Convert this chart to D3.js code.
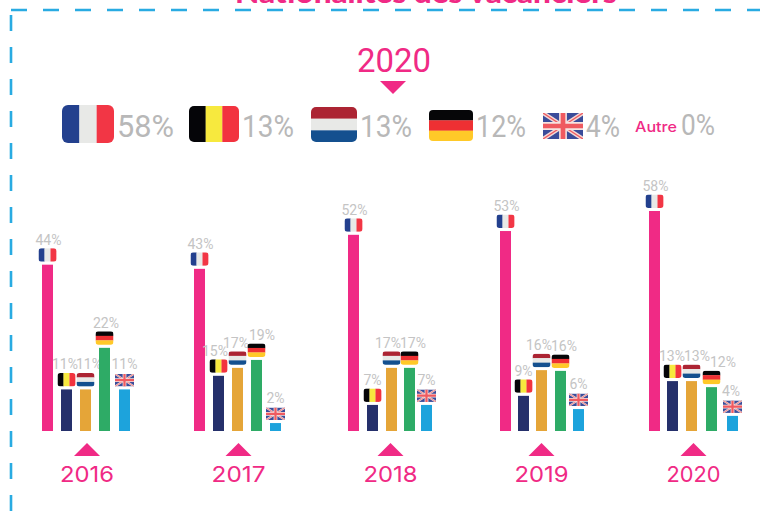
<!DOCTYPE html>
<html lang="fr">
<head>
<meta charset="utf-8">
<script src="https://cdn.jsdelivr.net/npm/d3@7/dist/d3.min.js"></script>
<style>
html,body{margin:0;padding:0;background:#fff;overflow:hidden}
svg{display:block}
text{font-family:Roboto,sans-serif}
</style>
</head>
<body>
<svg id="chart" width="760" height="523"></svg>
<script>
// ---- data ----
const years = [2016, 2017, 2018, 2019, 2020];
const countries = ["FR", "BE", "NL", "DE", "UK"];
const share2016 = [44, 11, 11, 22, 11];
const share2017 = [42.9, 14.6, 16.7, 18.8, 2.1];
const share2018 = [51.9, 6.9, 16.7, 16.7, 6.9];
const share2019 = [52.9, 9.3, 16.1, 15.9, 5.8];
const share2020 = [58.2, 13.2, 13.2, 11.6, 4];
const headlineYear = "2020";
const headlineShares = [58, 13, 13, 12, 4];
const otherLabel = "Autre";
const otherShare = 0;
const titleText = "Nationalités des vacanciers";

// ---- layout and style ----
const allShares = [share2016, share2017, share2018, share2019, share2020];
const pink = "#F02A85", grey = "#B8B8B8", dash = "#29ABE2";
const barColor = d3.scaleOrdinal(countries, ["#F02A85", "#25306B", "#E5A538", "#2EAB66", "#1DA3DC"]);
const baseY = 431, barW = 11;
const y = d3.scaleLinear().domain([0, 58.2]).range([baseY, baseY - 220]);
const groupLeft = d3.scaleOrdinal(years, [42, 194, 348, 500, 649]);
const groupMark = d3.scaleOrdinal(years, [87, 238.5, 390.5, 541.5, 693.5]);
const barOffsets = [
  [0, 19, 38, 57, 77],
  [0, 19, 38, 57, 76],
  [0, 19, 38, 56, 73],
  [0, 18, 36, 55, 73],
  [0, 18, 37, 57, 78]
];
const labelNudge = [
  [1, -1.5, 3.5, 1.5, 0],
  [1, -3.5, -1.5, 5.5, 0],
  [1, 0, -3.5, 3.5, 0],
  [1, 0, -2.5, 3.5, 0],
  [1, -0.5, 5.5, 11.5, -1.5]
];
const pct = v => d3.format(".0f")(v) + "%";

const svg = d3.select("#chart");
const defs = svg.append("defs");
let clipId = 0;

function drawFlag(parent, code, x0, y0, w, h, r) {
  const g = parent.append("g").attr("class", "flag");
  const id = "clip" + (clipId++);
  defs.append("clipPath").attr("id", id).append("rect")
    .attr("x", x0).attr("y", y0).attr("width", w).attr("height", h)
    .attr("rx", code === "UK" ? 0 : r).attr("ry", code === "UK" ? 0 : r);
  const c = g.append("g").attr("clip-path", `url(#${id})`);
  const vStripes = cols => cols.forEach((col, i) => c.append("rect")
    .attr("x", x0 + i * w / 3).attr("y", y0).attr("width", w / 3 + 0.2).attr("height", h).attr("fill", col));
  const hStripes = cols => cols.forEach((col, i) => c.append("rect")
    .attr("x", x0).attr("y", y0 + i * h / 3).attr("width", w).attr("height", h / 3 + 0.2).attr("fill", col));
  if (code === "FR") vStripes(["#23408E", "#E8E9E7", "#F23645"]);
  if (code === "BE") vStripes(["#050508", "#F7E93E", "#F2333F"]);
  if (code === "NL") hStripes(["#AC2433", "#E8E9E7", "#14508F"]);
  if (code === "DE") hStripes(["#060608", "#EE3033", "#FFC928"]);
  if (code === "UK") {
    c.append("rect").attr("x", x0).attr("y", y0).attr("width", w).attr("height", h).attr("fill", "#3A4C9A");
    const diag = (col, sw) => {
      [[x0, y0, x0 + w, y0 + h], [x0 + w, y0, x0, y0 + h]].forEach(p => c.append("line")
        .attr("x1", p[0]).attr("y1", p[1]).attr("x2", p[2]).attr("y2", p[3])
        .attr("stroke", col).attr("stroke-width", sw));
    };
    diag("#F3D9D6", h * 0.16);
    diag("#EF5A60", h * 0.05);
    const cross = (col, sw) => {
      c.append("line").attr("x1", x0 + w / 2).attr("x2", x0 + w / 2).attr("y1", y0).attr("y2", y0 + h).attr("stroke", col).attr("stroke-width", sw);
      c.append("line").attr("x1", x0).attr("x2", x0 + w).attr("y1", y0 + h / 2).attr("y2", y0 + h / 2).attr("stroke", col).attr("stroke-width", sw);
    };
    cross("#F6E3E0", h * 0.3);
    cross("#EF5A60", h * 0.18);
  }
}

// title, clipped by the top edge as in the reference
svg.append("text").attr("x", 235).attr("y", 3)
  .attr("textLength", 382).attr("lengthAdjust", "spacingAndGlyphs")
  .style("font-family", "Lato,sans-serif")
  .attr("font-size", 28).attr("font-weight", 900).attr("fill", pink).text(titleText);

// dashed frame
svg.append("line").attr("x1", 11).attr("x2", 760).attr("y1", 10).attr("y2", 10)
  .attr("stroke", dash).attr("stroke-width", 2.6).attr("stroke-dasharray", "16 16");
svg.append("line").attr("x1", 11).attr("x2", 11).attr("y1", 15).attr("y2", 523)
  .attr("stroke", dash).attr("stroke-width", 2.6).attr("stroke-dasharray", "16 16");

// headline
svg.append("text").attr("x", 357).attr("y", 72)
  .attr("textLength", 74).attr("lengthAdjust", "spacingAndGlyphs")
  .attr("font-size", 34).attr("fill", pink).text(headlineYear);
svg.append("path").attr("d", "M380,81L406,81L393,94Z").attr("fill", pink);

// headline legend
const legendBoxes = [
  {x: 62, y: 105, w: 52, h: 38, r: 6, tx: 117, tw: 57},
  {x: 189, y: 106, w: 50, h: 36, r: 5, tx: 242, tw: 52},
  {x: 311, y: 107, w: 46, h: 35, r: 5, tx: 360, tw: 52},
  {x: 429, y: 110, w: 44, h: 31, r: 4, tx: 476, tw: 50},
  {x: 543, y: 113, w: 40, h: 26, r: 0, tx: 586, tw: 34}
];
const legend = svg.append("g").attr("class", "legend");
countries.forEach((c, i) => {
  const b = legendBoxes[i];
  drawFlag(legend, c, b.x, b.y, b.w, b.h, b.r);
  legend.append("text").attr("x", b.tx).attr("y", 137)
    .attr("textLength", b.tw).attr("lengthAdjust", "spacingAndGlyphs")
    .attr("font-size", 32).attr("font-weight", 400).attr("fill", grey).text(pct(headlineShares[i]));
});
legend.append("text").attr("x", 635).attr("y", 132)
  .attr("textLength", 42).attr("lengthAdjust", "spacingAndGlyphs")
  .style("font-family", "Inter,sans-serif")
  .attr("font-size", 14.5).attr("font-weight", 500).attr("fill", pink).text(otherLabel);
legend.append("text").attr("x", 681).attr("y", 135)
  .attr("textLength", 34).attr("lengthAdjust", "spacingAndGlyphs")
  .attr("font-size", 30).attr("font-weight", 400).attr("fill", grey).text(pct(otherShare));

// grouped bars
const groups = svg.selectAll("g.year").data(years).join("g").attr("class", "year");
groups.each(function (yr, yi) {
  const g = d3.select(this);
  const left = groupLeft(yr);
  allShares[yi].forEach((v, ci) => {
    const c = countries[ci];
    const bx = left + barOffsets[yi][ci];
    g.append("rect").attr("x", bx).attr("y", y(v)).attr("width", barW)
      .attr("height", baseY - y(v)).attr("fill", barColor(c));
    const fw = c === "UK" ? 19 : 18, fh = c === "UK" ? 12.5 : 13.5;
    drawFlag(g, c, bx + barW / 2 - fw / 2, y(v) - 3 - fh, fw, fh, 3);
    g.append("text").attr("x", bx + barW / 2 + labelNudge[yi][ci]).attr("y", y(v) - 20)
      .attr("text-anchor", "middle").attr("font-size", 14).attr("fill", "#C4C4C4").text(pct(v));
  });
  const m = groupMark(yr);
  g.append("path").attr("d", `M${m - 13},456L${m + 13},456L${m},443Z`).attr("fill", pink);
  g.append("text").attr("x", m).attr("y", 482).attr("text-anchor", "middle")
    .attr("textLength", 54).attr("lengthAdjust", "spacingAndGlyphs")
    .style("font-family", "Inter,sans-serif")
    .attr("font-size", 22).attr("fill", pink).text(yr);
});
</script>
</body>
</html>
